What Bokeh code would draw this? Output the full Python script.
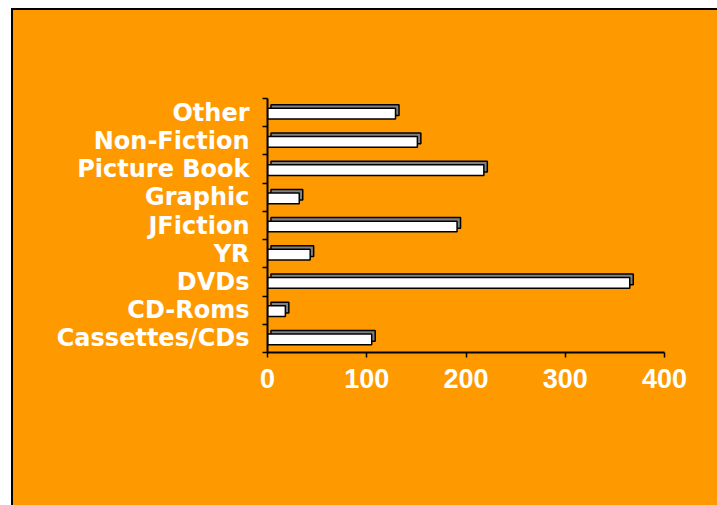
import numpy as np
from bokeh.plotting import figure
from bokeh.layouts import column
from bokeh.models import ColumnDataSource, FixedTicker, Range1d
from bokeh.embed import file_html
from bokeh.resources import INLINE

# ---- data ----
categories = ["Cassettes/CDs", "CD-Roms", "DVDs", "YR", "JFiction",
              "Graphic", "Picture Book", "Non-Fiction", "Other"]
values = [105, 18, 365, 43, 191, 32, 218, 151, 129]
x_ticks = [0, 100, 200, 300, 400]

# ---- style constants ----
ORANGE = "#FF9900"
DEPTH_X = 3.5      # 3D depth in x units
DEPTH_Y = 0.125    # 3D depth in category units
BAR_H = 0.38

pos = np.arange(len(categories)) + 0.5
vals = np.array(values, dtype=float)
src = ColumnDataSource(dict(
    y_front=pos - 0.035,
    y_back=pos - 0.035 + DEPTH_Y,
    v=vals,
    v_back=vals + DEPTH_X,
))

p = figure(width=704, height=495, output_backend="svg", toolbar_location=None,
           x_range=Range1d(0, 400), y_range=Range1d(0, len(categories)),
           min_border_left=254, min_border_right=53,
           min_border_top=88, min_border_bottom=153)
p.styles = {"background-color": ORANGE}
p.background_fill_alpha = 0
p.border_fill_alpha = 0
p.outline_line_color = None
p.grid.visible = False

# back (depth) bars
p.hbar(y="y_back", left=DEPTH_X, right="v_back", height=BAR_H,
       fill_color="#808080", line_color="black", line_width=1.5, source=src)
# front bars
p.hbar(y="y_front", left=0, right="v", height=BAR_H,
       fill_color="white", line_color="black", line_width=1.5, source=src)

# x axis
xa = p.xaxis[0]
xa.ticker = FixedTicker(ticks=x_ticks)
xa.axis_line_width = 2
xa.axis_line_color = "black"
xa.major_tick_out = 5
xa.major_tick_in = 0
xa.major_tick_line_width = 1.5
xa.minor_tick_out = 0
xa.minor_tick_in = 0
xa.major_label_text_font = "Liberation Sans"
xa.major_label_text_font_style = "bold"
xa.major_label_text_font_size = "27px"
xa.major_label_text_color = "white"
xa.major_label_standoff = 11

# y axis: ticks at category boundaries (minor), labels at centres
ya = p.yaxis[0]
ya.ticker = FixedTicker(ticks=list(pos), minor_ticks=list(range(len(categories) + 1)))
ya.major_label_overrides = {float(y): c for y, c in zip(pos, categories)}
ya.axis_line_width = 2
ya.axis_line_color = "black"
ya.major_tick_out = 0
ya.major_tick_in = 0
ya.minor_tick_out = 5
ya.minor_tick_in = 0
ya.minor_tick_line_width = 1.5
ya.minor_tick_line_color = "black"
ya.major_label_text_font = "DejaVu Sans"
ya.major_label_text_font_style = "bold"
ya.major_label_text_font_size = "24px"
ya.major_label_text_color = "white"
ya.major_label_standoff = 13

layout = column(p)
layout.styles = {"margin-left": "11px", "margin-top": "8px",
                 "padding-left": "2px", "padding-top": "2px",
                 "background-color": "black"}

open("out.html", "w").write(file_html(layout, INLINE))
